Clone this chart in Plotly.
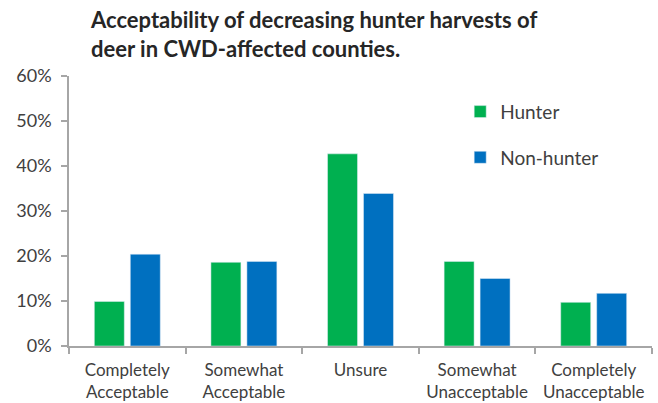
import plotly.graph_objects as go

categories = ["Completely<br>Acceptable", "Somewhat<br>Acceptable", "Unsure",
              "Somewhat<br>Unacceptable", "Completely<br>Unacceptable"]
hunter = [9.9, 18.6, 42.7, 18.8, 9.7]
non_hunter = [20.4, 18.8, 33.9, 15.0, 11.7]
y_ticks = [0, 10, 20, 30, 40, 50, 60]
y_tick_labels = ["0%", "10%", "20%", "30%", "40%", "50%", "60%"]
title_text = "Acceptability of decreasing hunter harvests of<br>deer in CWD-affected counties."

FONT = "Lato, Calibri, Carlito, sans-serif"
TXT = "#404040"
AX = "#A6A6A6"

fig = go.Figure()
fig.add_trace(go.Bar(name="Hunter", x=categories, y=hunter, marker_color="#00B050",
                     legendgroup="h"))
fig.add_trace(go.Bar(name="Non-hunter", x=categories, y=non_hunter, marker_color="#0070C0",
                     legendgroup="n"))

fig.update_layout(
    width=658, height=403,
    margin=dict(l=69, r=6, t=76, b=57, autoexpand=False),
    paper_bgcolor="white", plot_bgcolor="white",
    barmode="group", bargap=0.383, bargroupgap=0.167,
    font=dict(family=FONT, color=TXT),
    showlegend=True,
    legend=dict(x=0.671, y=0.938, xanchor="left", yanchor="top",
                font=dict(size=19, color=TXT, family=FONT),
                tracegroupgap=18, itemwidth=30, bgcolor="rgba(0,0,0,0)"),
    annotations=[dict(text="<b>" + title_text + "</b>", xref="paper", yref="paper",
                      x=19 / 583, y=1.0, yshift=72, xanchor="left", yanchor="top",
                      align="left", showarrow=False,
                      font=dict(size=22, color="#262626", family=FONT))],
)
fig.update_xaxes(showline=True, linecolor=AX, linewidth=1.5, ticks="outside",
                 tickson="boundaries", ticklen=6, tickcolor=AX, tickwidth=1.5,
                 tickfont=dict(size=17, color=TXT), showgrid=False,
                 ticklabelstandoff=8, automargin=False)
fig.update_yaxes(range=[0, 60], tickvals=y_ticks, ticktext=y_tick_labels, showline=True,
                 linecolor=AX, linewidth=1.5, ticks="outside", ticklen=6,
                 tickcolor=AX, tickwidth=1.5, tickfont=dict(size=18, color=TXT),
                 showgrid=False, zeroline=False, ticklabelstandoff=6, automargin=False)

fig.write_html("out.html")
